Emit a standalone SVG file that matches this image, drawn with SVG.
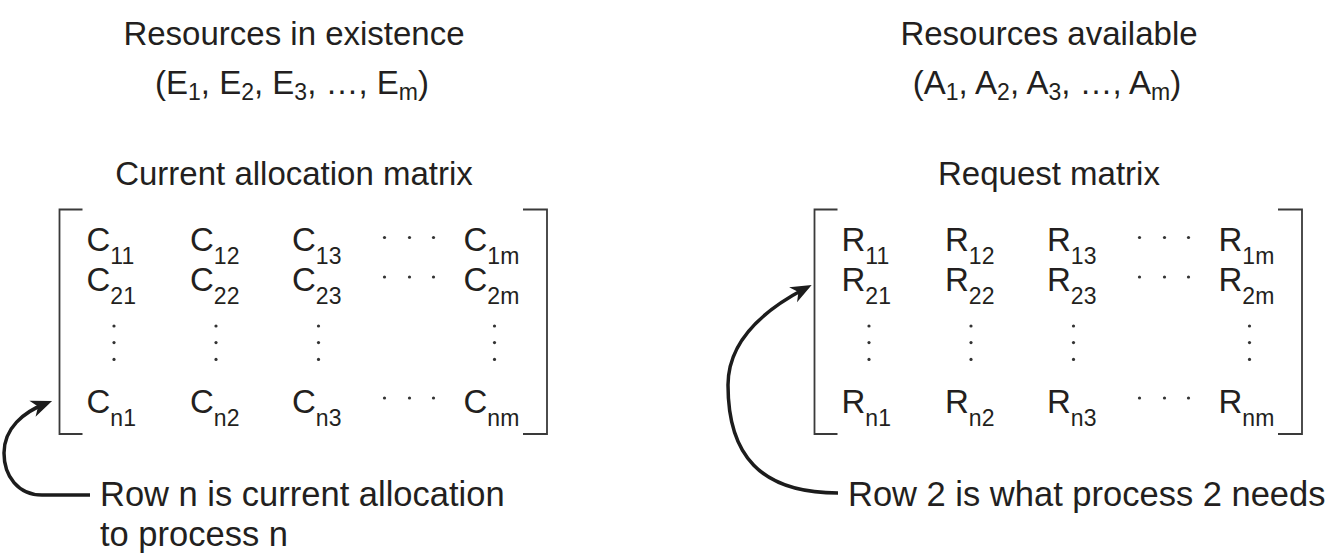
<svg xmlns="http://www.w3.org/2000/svg" width="1334" height="556" viewBox="0 0 1334 556">
<style>
  text { font-family: "Liberation Sans", Arial, Helvetica, sans-serif; fill: #231f20; }
  .t { font-size: 33px; }
  .n { font-size: 34.5px; }
  .mid { text-anchor: middle; }
  .sub { font-size: 23px; }
  .br { fill: none; stroke: #3a3a3a; stroke-width: 1.8; }
  .dot { fill: #333; }
  .arr { fill: none; stroke: #1c1c1c; stroke-width: 3.5; marker-end: url(#head); }
</style>
<defs>
  <marker id="head" markerUnits="userSpaceOnUse" viewBox="-30 -12 32 24" markerWidth="32" markerHeight="24" refX="-8" refY="0" orient="auto">
    <path d="M0,0 L-21,-8.5 L-15,0 L-21,8.5 Z" fill="#1c1c1c"/>
  </marker>
  <g id="hdots">
    <circle class="dot" cx="0" cy="0" r="1.6"/>
    <circle class="dot" cx="25" cy="0" r="1.6"/>
    <circle class="dot" cx="49" cy="0" r="1.6"/>
  </g>
  <g id="vdots">
    <circle class="dot" cx="0" cy="326" r="1.6"/>
    <circle class="dot" cx="0" cy="342.6" r="1.6"/>
    <circle class="dot" cx="0" cy="359.4" r="1.6"/>
  </g>
</defs>

<g id="existence-title">
  <text class="t mid" x="294" y="45">Resources in existence</text>
  <text class="t mid" x="292" y="94">(E<tspan class="sub" dy="6">1</tspan><tspan dy="-6">, E</tspan><tspan class="sub" dy="6">2</tspan><tspan dy="-6">, E</tspan><tspan class="sub" dy="6">3</tspan><tspan dy="-6">, …, E</tspan><tspan class="sub" dy="6">m</tspan><tspan dy="-6">)</tspan></text>
</g>

<g id="available-title">
  <text class="t mid" x="1049" y="45">Resources available</text>
  <text class="t mid" x="1047" y="94">(A<tspan class="sub" dy="6">1</tspan><tspan dy="-6">, A</tspan><tspan class="sub" dy="6">2</tspan><tspan dy="-6">, A</tspan><tspan class="sub" dy="6">3</tspan><tspan dy="-6">, …, A</tspan><tspan class="sub" dy="6">m</tspan><tspan dy="-6">)</tspan></text>
</g>

<g id="allocation-matrix">
  <text class="t mid" x="294" y="185">Current allocation matrix</text>
  <path class="br" d="M82.5,209.5 H59.5 V434 H82.5"/>
  <path class="br" d="M523,209.5 H547 V434 H523"/>
  <text class="t" x="86.5" y="251">C<tspan class="sub" dy="13">11</tspan></text>
  <text class="t" x="190" y="251">C<tspan class="sub" dy="13">12</tspan></text>
  <text class="t" x="292" y="251">C<tspan class="sub" dy="13">13</tspan></text>
  <text class="t" x="463.5" y="251">C<tspan class="sub" dy="13">1m</tspan></text>
  <text class="t" x="86.5" y="291">C<tspan class="sub" dy="13">21</tspan></text>
  <text class="t" x="190" y="291">C<tspan class="sub" dy="13">22</tspan></text>
  <text class="t" x="292" y="291">C<tspan class="sub" dy="13">23</tspan></text>
  <text class="t" x="463.5" y="291">C<tspan class="sub" dy="13">2m</tspan></text>
  <text class="t" x="86.5" y="413">C<tspan class="sub" dy="13">n1</tspan></text>
  <text class="t" x="190" y="413">C<tspan class="sub" dy="13">n2</tspan></text>
  <text class="t" x="292" y="413">C<tspan class="sub" dy="13">n3</tspan></text>
  <text class="t" x="463.5" y="413">C<tspan class="sub" dy="13">nm</tspan></text>
  <use href="#hdots" x="384.5" y="237.5"/>
  <use href="#hdots" x="384.5" y="277"/>
  <use href="#hdots" x="384.5" y="398"/>
  <use href="#vdots" x="114" y="0"/>
  <use href="#vdots" x="216" y="0"/>
  <use href="#vdots" x="318.5" y="0"/>
  <use href="#vdots" x="494.5" y="0"/>
</g>

<g id="request-matrix">
  <text class="t mid" x="1049" y="185">Request matrix</text>
  <path class="br" d="M837.5,209.5 H814.5 V434 H837.5"/>
  <path class="br" d="M1278,209.5 H1302 V434 H1278"/>
  <text class="t" x="841.5" y="251">R<tspan class="sub" dy="13">11</tspan></text>
  <text class="t" x="945" y="251">R<tspan class="sub" dy="13">12</tspan></text>
  <text class="t" x="1047" y="251">R<tspan class="sub" dy="13">13</tspan></text>
  <text class="t" x="1218.5" y="251">R<tspan class="sub" dy="13">1m</tspan></text>
  <text class="t" x="841.5" y="291">R<tspan class="sub" dy="13">21</tspan></text>
  <text class="t" x="945" y="291">R<tspan class="sub" dy="13">22</tspan></text>
  <text class="t" x="1047" y="291">R<tspan class="sub" dy="13">23</tspan></text>
  <text class="t" x="1218.5" y="291">R<tspan class="sub" dy="13">2m</tspan></text>
  <text class="t" x="841.5" y="413">R<tspan class="sub" dy="13">n1</tspan></text>
  <text class="t" x="945" y="413">R<tspan class="sub" dy="13">n2</tspan></text>
  <text class="t" x="1047" y="413">R<tspan class="sub" dy="13">n3</tspan></text>
  <text class="t" x="1218.5" y="413">R<tspan class="sub" dy="13">nm</tspan></text>
  <use href="#hdots" x="1139.5" y="237.5"/>
  <use href="#hdots" x="1139.5" y="277"/>
  <use href="#hdots" x="1139.5" y="398"/>
  <use href="#vdots" x="869" y="0"/>
  <use href="#vdots" x="971" y="0"/>
  <use href="#vdots" x="1073.5" y="0"/>
  <use href="#vdots" x="1249.5" y="0"/>
</g>

<g id="note-row-n">
  <text class="n" x="100" y="506">Row n is current allocation</text>
  <text class="n" x="100" y="546">to process n</text>
</g>

<g id="note-row-2">
  <text class="n" x="848" y="506">Row 2 is what process 2 needs</text>
</g>

<g id="connectors">
  <path class="arr" d="M90,495 H42 C18,495 4,476 4,453 C4,428 24,412 44.6,404"/>
  <path class="arr" d="M838,493 C760,493 728,455 728,385 C728,338 770,307 804.6,288.8"/>
</g>
</svg>
